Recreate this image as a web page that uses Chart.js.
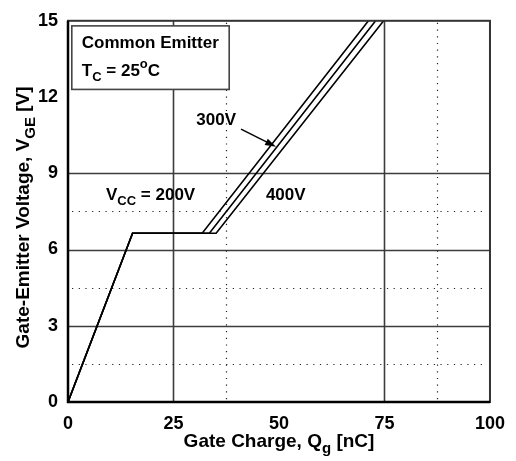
<!DOCTYPE html>
<html>
<head>
<meta charset="utf-8">
<script src="https://cdn.jsdelivr.net/npm/chart.js@4/dist/chart.umd.min.js"></script>
<style>
  body { margin: 0; background: #fff; }
  canvas { display: block; }
</style>
</head>
<body>
<canvas id="gateChart" width="516" height="461"></canvas>
<script>
// gate charge curves
const vge = [0, 6.64, 6.64, 15];            // gate-emitter voltage [V]
const qg200 = [0, 15.3, 31.8, 71.2];        // gate charge [nC], Vcc = 200V
const qg300 = [0, 15.3, 33.5, 72.9];        // Vcc = 300V
const qg400 = [0, 15.3, 35.1, 74.8];        // Vcc = 400V

const xTicks = [0, 25, 50, 75, 100];
const yTicks = [0, 3, 6, 9, 12, 15];

// grid as drawn on the original (not every tick has a line)
const gridSolidX = [25, 75];
const gridDotX = [37.5, 87.5];
const gridSolidY = [3, 6, 9];
const gridDotY = [1.5, 4.5, 7.5];

const FONT = '"Liberation Sans", Arial, sans-serif';

const toPoints = (xs, ys) => xs.map((x, i) => ({ x: x, y: ys[i] }));

// rich text: parts = [{t, sub, sup}]
function drawRich(ctx, parts, x, y, size) {
    let cx = x;
    parts.forEach(p => {
        const s = (p.sub || p.sup) ? Math.round(size * 0.78) : size;
        ctx.font = 'bold ' + s + 'px ' + FONT;
        const dy = p.sub ? size * 0.3 : (p.sup ? -size * 0.45 : 0);
        ctx.fillText(p.t, cx, y + dy);
        cx += ctx.measureText(p.t).width;
    });
    return cx - x;
}
function richWidth(ctx, parts, size) {
    let w = 0;
    parts.forEach(p => {
        const s = (p.sub || p.sup) ? Math.round(size * 0.78) : size;
        ctx.font = 'bold ' + s + 'px ' + FONT;
        w += ctx.measureText(p.t).width;
    });
    return w;
}

const gridPlugin = {
    id: 'gridLines',
    beforeDatasetsDraw(chart) {
        const { ctx, chartArea: a, scales: { x, y } } = chart;
        ctx.save();
        ctx.lineWidth = 1.6;
        ctx.strokeStyle = '#3c3c3c';
        gridSolidX.forEach(v => {
            const px = Math.round(x.getPixelForValue(v)) + 0.5;
            ctx.beginPath(); ctx.moveTo(px, a.top); ctx.lineTo(px, a.bottom); ctx.stroke();
        });
        gridSolidY.forEach(v => {
            const py = Math.round(y.getPixelForValue(v)) + 0.5;
            ctx.beginPath(); ctx.moveTo(a.left, py); ctx.lineTo(a.right, py); ctx.stroke();
        });
        ctx.lineWidth = 1.2;
        ctx.strokeStyle = '#222';
        ctx.setLineDash([1.2, 5.5]);
        gridDotX.forEach(v => {
            const px = Math.round(x.getPixelForValue(v)) + 0.5;
            ctx.beginPath(); ctx.moveTo(px, a.top + 2); ctx.lineTo(px, a.bottom); ctx.stroke();
        });
        gridDotY.forEach(v => {
            const py = Math.round(y.getPixelForValue(v)) + 0.5;
            ctx.beginPath(); ctx.moveTo(a.left + 4, py); ctx.lineTo(a.right - 8, py); ctx.stroke();
        });
        ctx.restore();
    },
    afterDatasetsDraw(chart) {
        const { ctx, chartArea: a, scales: { x, y } } = chart;
        ctx.save();
        // frame
        ctx.lineWidth = 2;
        ctx.strokeStyle = '#333';
        ctx.strokeRect(a.left, a.top, a.right - a.left, a.bottom - a.top);
        ctx.lineWidth = 2.5;
        ctx.strokeStyle = '#000';
        ctx.beginPath();
        ctx.moveTo(a.left, a.top); ctx.lineTo(a.left, a.bottom); ctx.lineTo(a.right, a.bottom);
        ctx.stroke();

        // condition box
        const bx0 = x.getPixelForValue(0.9), bx1 = x.getPixelForValue(38.2);
        const by0 = y.getPixelForValue(14.8), by1 = y.getPixelForValue(12.3);
        ctx.fillStyle = '#fff';
        ctx.fillRect(bx0, by0, bx1 - bx0, by1 - by0);
        ctx.lineWidth = 1.6;
        ctx.strokeStyle = '#444';
        ctx.strokeRect(bx0, by0, bx1 - bx0, by1 - by0);
        ctx.fillStyle = '#000';
        ctx.textBaseline = 'alphabetic';
        ctx.textAlign = 'left';
        drawRich(ctx, [{ t: 'Common Emitter' }], bx0 + 10, by0 + 22, 17);
        drawRich(ctx, [{ t: 'T' }, { t: 'C', sub: true }, { t: ' = 25' }, { t: 'o', sup: true }, { t: 'C' }], bx0 + 10, by0 + 50, 17);

        // curve labels
        drawRich(ctx, [{ t: '300V' }], x.getPixelForValue(30.4), y.getPixelForValue(10.9), 17);
        drawRich(ctx, [{ t: '400V' }], x.getPixelForValue(46.9), y.getPixelForValue(7.94), 17);
        drawRich(ctx, [{ t: 'V' }, { t: 'CC', sub: true }, { t: ' = 200V' }], x.getPixelForValue(9.0), y.getPixelForValue(7.94), 17);

        // arrow to the 300V curve
        const ax0 = x.getPixelForValue(41.0), ay0 = y.getPixelForValue(10.74);
        const ax1 = x.getPixelForValue(49.3), ay1 = y.getPixelForValue(10.04);
        const ang = Math.atan2(ay1 - ay0, ax1 - ax0);
        ctx.lineWidth = 1.4;
        ctx.strokeStyle = '#000';
        ctx.beginPath(); ctx.moveTo(ax0, ay0); ctx.lineTo(ax1 - 8 * Math.cos(ang), ay1 - 8 * Math.sin(ang)); ctx.stroke();
        ctx.beginPath();
        ctx.moveTo(ax1, ay1);
        ctx.lineTo(ax1 - 11 * Math.cos(ang) + 3.5 * Math.sin(ang), ay1 - 11 * Math.sin(ang) - 3.5 * Math.cos(ang));
        ctx.lineTo(ax1 - 11 * Math.cos(ang) - 3.5 * Math.sin(ang), ay1 - 11 * Math.sin(ang) + 3.5 * Math.cos(ang));
        ctx.closePath(); ctx.fill();

        // axis titles
        const xt = [{ t: 'Gate Charge, Q' }, { t: 'g', sub: true }, { t: ' [nC]' }];
        const xw = richWidth(ctx, xt, 19);
        drawRich(ctx, xt, (a.left + a.right) / 2 - xw / 2, a.bottom + 45, 19);

        const yt = [{ t: 'Gate-Emitter Voltage, V' }, { t: 'GE', sub: true }, { t: ' [V]' }];
        const yw = richWidth(ctx, yt, 19);
        ctx.translate(29, (a.top + a.bottom) / 2);
        ctx.rotate(-Math.PI / 2);
        drawRich(ctx, yt, -yw / 2 - 6, 0, 19);
        ctx.restore();
    }
};

const curveStyle = { borderColor: '#000', borderWidth: 1.6, pointRadius: 0, showLine: true, fill: false, tension: 0 };

new Chart(document.getElementById('gateChart'), {
    type: 'scatter',
    data: {
        datasets: [
            Object.assign({ label: '200V', data: toPoints(qg200, vge) }, curveStyle),
            Object.assign({ label: '300V', data: toPoints(qg300, vge) }, curveStyle),
            Object.assign({ label: '400V', data: toPoints(qg400, vge) }, curveStyle)
        ]
    },
    options: {
        responsive: false,
        animation: false,
        layout: { padding: { left: 0, right: 22, top: 16, bottom: 0 } },
        plugins: { legend: { display: false }, tooltip: { enabled: false } },
        scales: {
            x: {
                type: 'linear', min: 0, max: 100,
                afterBuildTicks: s => { s.ticks = xTicks.map(v => ({ value: v })); },
                afterFit: s => { s.height = 59; },
                grid: { display: false, drawTicks: false },
                border: { display: false },
                ticks: { color: '#000', padding: 11, maxRotation: 0, font: { family: FONT, size: 18, weight: 'bold' } }
            },
            y: {
                type: 'linear', min: 0, max: 15,
                afterBuildTicks: s => { s.ticks = yTicks.map(v => ({ value: v })); },
                afterFit: s => { s.width = 68; },
                grid: { display: false, drawTicks: false },
                border: { display: false },
                ticks: { color: '#000', padding: 10, font: { family: FONT, size: 18, weight: 'bold' } }
            }
        }
    },
    plugins: [gridPlugin]
});
</script>
</body>
</html>
